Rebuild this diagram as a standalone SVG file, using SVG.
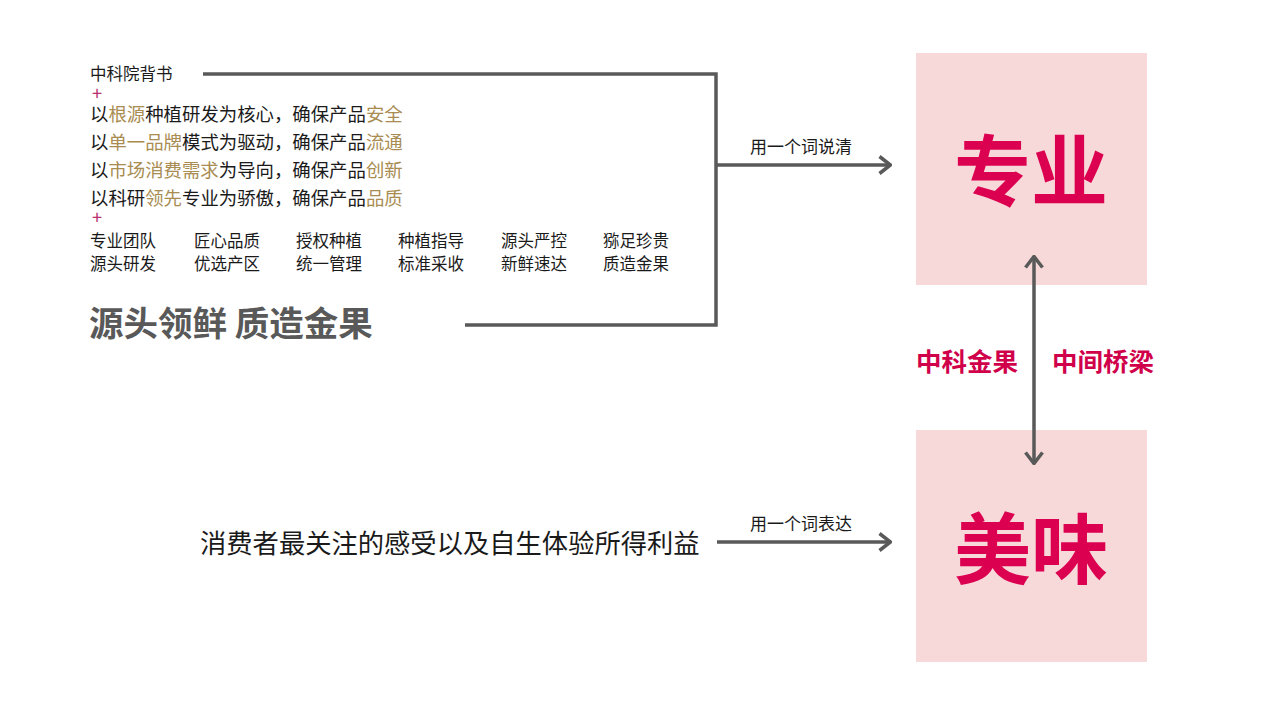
<svg xmlns="http://www.w3.org/2000/svg" width="1280" height="720" viewBox="0 0 1280 720">
<defs>
<style>
text{font-family:"Noto Sans CJK SC","Liberation Sans",sans-serif;}
.t{fill:#1a1a1a;font-size:18.4px;}
.s{fill:#1a1a1a;font-size:16.5px;}
.g{fill:#a88c52;}
.plus{fill:#b8306e;font-size:14px;}
.ln{stroke:#595959;stroke-width:3.5;fill:none;}
.box{fill:#f8d9d9;}
.big{fill:#dc0050;font-size:77px;font-weight:bold;text-anchor:middle;}
.mid{fill:#d0004a;font-size:25.5px;font-weight:bold;}
.lbl{fill:#1a1a1a;font-size:17px;}
</style>
<marker id="ah" viewBox="0 0 14 20" refX="13" refY="10" markerWidth="14" markerHeight="20" markerUnits="userSpaceOnUse" orient="auto-start-reverse">
<path d="M1.5,1.5 L12.5,10 L1.5,18.5" fill="none" stroke="#595959" stroke-width="3.5"/>
</marker>
</defs>
<rect width="1280" height="720" fill="#ffffff"/>

<g id="left-text">
<text class="s" x="90" y="80">中科院背书</text>
<text class="plus" x="92" y="100" transform="translate(92 100) scale(1.3) translate(-92 -100)">+</text>
<text class="t" x="90" y="121">以<tspan class="g">根源</tspan>种植研发为核心，确保产品<tspan class="g">安全</tspan></text>
<text class="t" x="90" y="149">以<tspan class="g">单一品牌</tspan>模式为驱动，确保产品<tspan class="g">流通</tspan></text>
<text class="t" x="90" y="177">以<tspan class="g">市场消费需求</tspan>为导向，确保产品<tspan class="g">创新</tspan></text>
<text class="t" x="90" y="205">以科研<tspan class="g">领先</tspan>专业为骄傲，确保产品<tspan class="g">品质</tspan></text>
<text class="plus" x="92" y="224" transform="translate(92 224) scale(1.3) translate(-92 -224)">+</text>
<g>
<text class="s" x="90" y="247">专业团队</text><text class="s" x="90" y="270">源头研发</text>
<text class="s" x="194" y="247">匠心品质</text><text class="s" x="194" y="270">优选产区</text>
<text class="s" x="296" y="247">授权种植</text><text class="s" x="296" y="270">统一管理</text>
<text class="s" x="398" y="247">种植指导</text><text class="s" x="398" y="270">标准采收</text>
<text class="s" x="501" y="247">源头严控</text><text class="s" x="501" y="270">新鲜速达</text>
<text class="s" x="603" y="247">猕足珍贵</text><text class="s" x="603" y="270">质造金果</text>
</g>
<text x="89" y="336" style="fill:#595959;font-size:34.5px;font-weight:bold;">源头领鲜 质造金果</text>
</g>

<g id="bottom-text">
<text x="200" y="553" style="fill:#1a1a1a;font-size:26.3px;">消费者最关注的感受以及自生体验所得利益</text>
</g>

<g id="node-zhuanye">
<rect class="box" x="916" y="53" width="231" height="232"/>
<text class="big" x="1031" y="200">专业</text>
</g>

<g id="node-meiwei">
<rect class="box" x="916" y="430" width="231" height="232"/>
<text class="big" x="1031" y="578">美味</text>
</g>

<g id="bridge-labels">
<text class="mid" x="916" y="371">中科金果</text>
<text class="mid" x="1052" y="371">中间桥梁</text>
</g>

<g id="connectors">
<path class="ln" d="M203,74 H716 V325 H465"/>
<path class="ln" d="M716,165 H891" marker-end="url(#ah)"/>
<path class="ln" d="M717,542 H891" marker-end="url(#ah)"/>
<path class="ln" d="M1034,256 V464" marker-start="url(#ah)" marker-end="url(#ah)"/>
<text class="lbl" x="750" y="153">用一个词说清</text>
<text class="lbl" x="750" y="530">用一个词表达</text>
</g>
</svg>
